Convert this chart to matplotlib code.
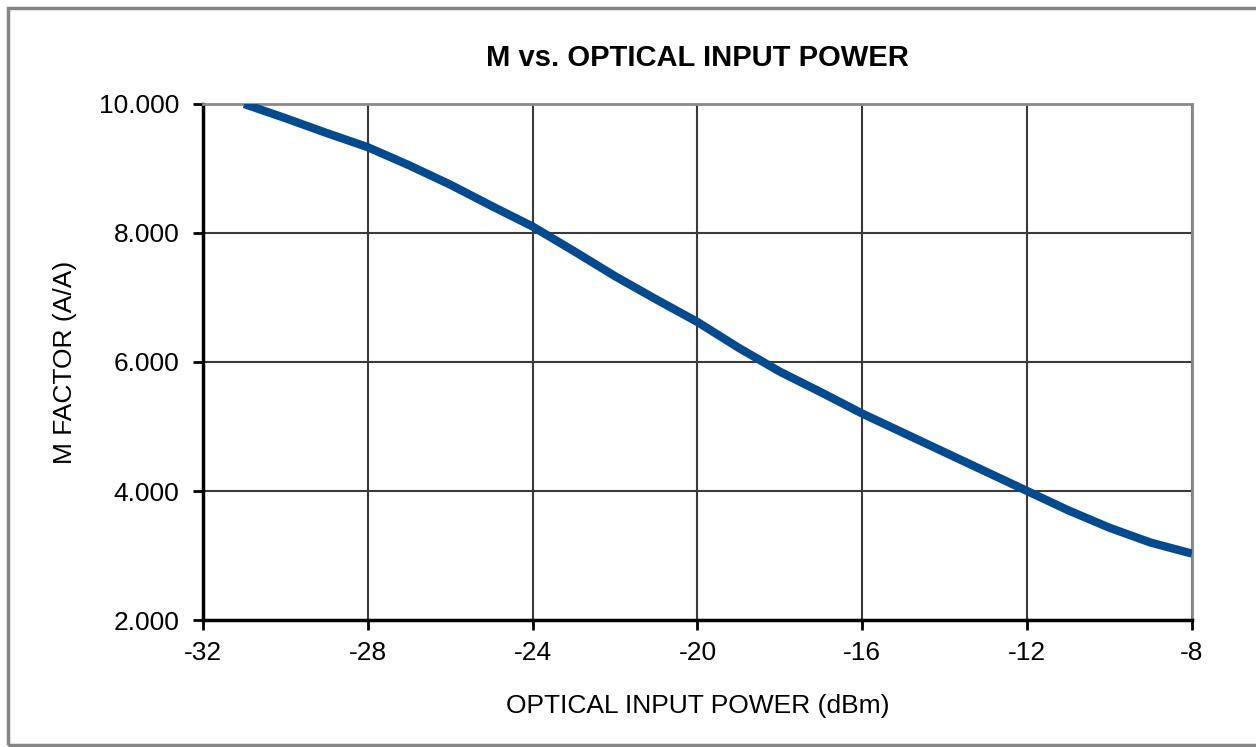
import matplotlib.pyplot as plt
from matplotlib.patches import Rectangle
from matplotlib.ticker import FormatStrFormatter

# optical input power (dBm) and measured M factor (A/A)
power_dbm = [-31, -30, -29, -28, -27, -26, -25, -24, -23, -22, -21, -20,
             -19, -18, -17, -16, -15, -14, -13, -12, -11, -10, -9, -8]
m_factor = [10.0, 9.78, 9.55, 9.33, 9.05, 8.75, 8.42, 8.10, 7.72, 7.33, 6.97, 6.62,
            6.22, 5.85, 5.53, 5.20, 4.90, 4.60, 4.30, 4.00, 3.70, 3.43, 3.20, 3.03]

x_ticks = [-32, -28, -24, -20, -16, -12, -8]
y_ticks = [2, 4, 6, 8, 10]

plt.rcParams["font.family"] = ["Liberation Sans", "DejaVu Sans"]
plt.rcParams["axes.unicode_minus"] = False

fig = plt.figure(figsize=(12.56, 7.47), dpi=100)
ax = fig.add_axes([0.1616, 0.170, 0.7874, 0.6908])

# outer frame around the whole chart (right edge runs off the picture)
fig.patches.append(Rectangle((0.0065, 0.003), 1.1, 0.986, transform=fig.transFigure,
                             fill=False, edgecolor="#858585", linewidth=2.5))

ax.plot(power_dbm, m_factor, color="#034a8f", linewidth=6, solid_capstyle="butt", zorder=3)

ax.set_xlim(-32, -8)
ax.set_ylim(2, 10)
ax.set_xticks(x_ticks)
ax.set_yticks(y_ticks)
ax.yaxis.set_major_formatter(FormatStrFormatter("%.3f"))
ax.grid(True, color="#3a3a3a", linewidth=1.5)
ax.set_axisbelow(True)

for side in ("top", "right"):
    ax.spines[side].set_color("#8a8a8a")
    ax.spines[side].set_linewidth(2)
for side in ("left", "bottom"):
    ax.spines[side].set_color("black")
    ax.spines[side].set_linewidth(2.5)

ax.tick_params(direction="out", length=7, width=2, labelsize=19)
ax.tick_params(axis="y", pad=10)
ax.tick_params(axis="x", pad=8)

ax.set_title("M vs. OPTICAL INPUT POWER", fontsize=21, fontweight="bold", pad=27)
ax.set_xlabel("OPTICAL INPUT POWER (dBm)", fontsize=19, labelpad=21)
ax.set_ylabel("M FACTOR (A/A)", fontsize=19, labelpad=16)

fig.savefig("out.png", dpi=100)
